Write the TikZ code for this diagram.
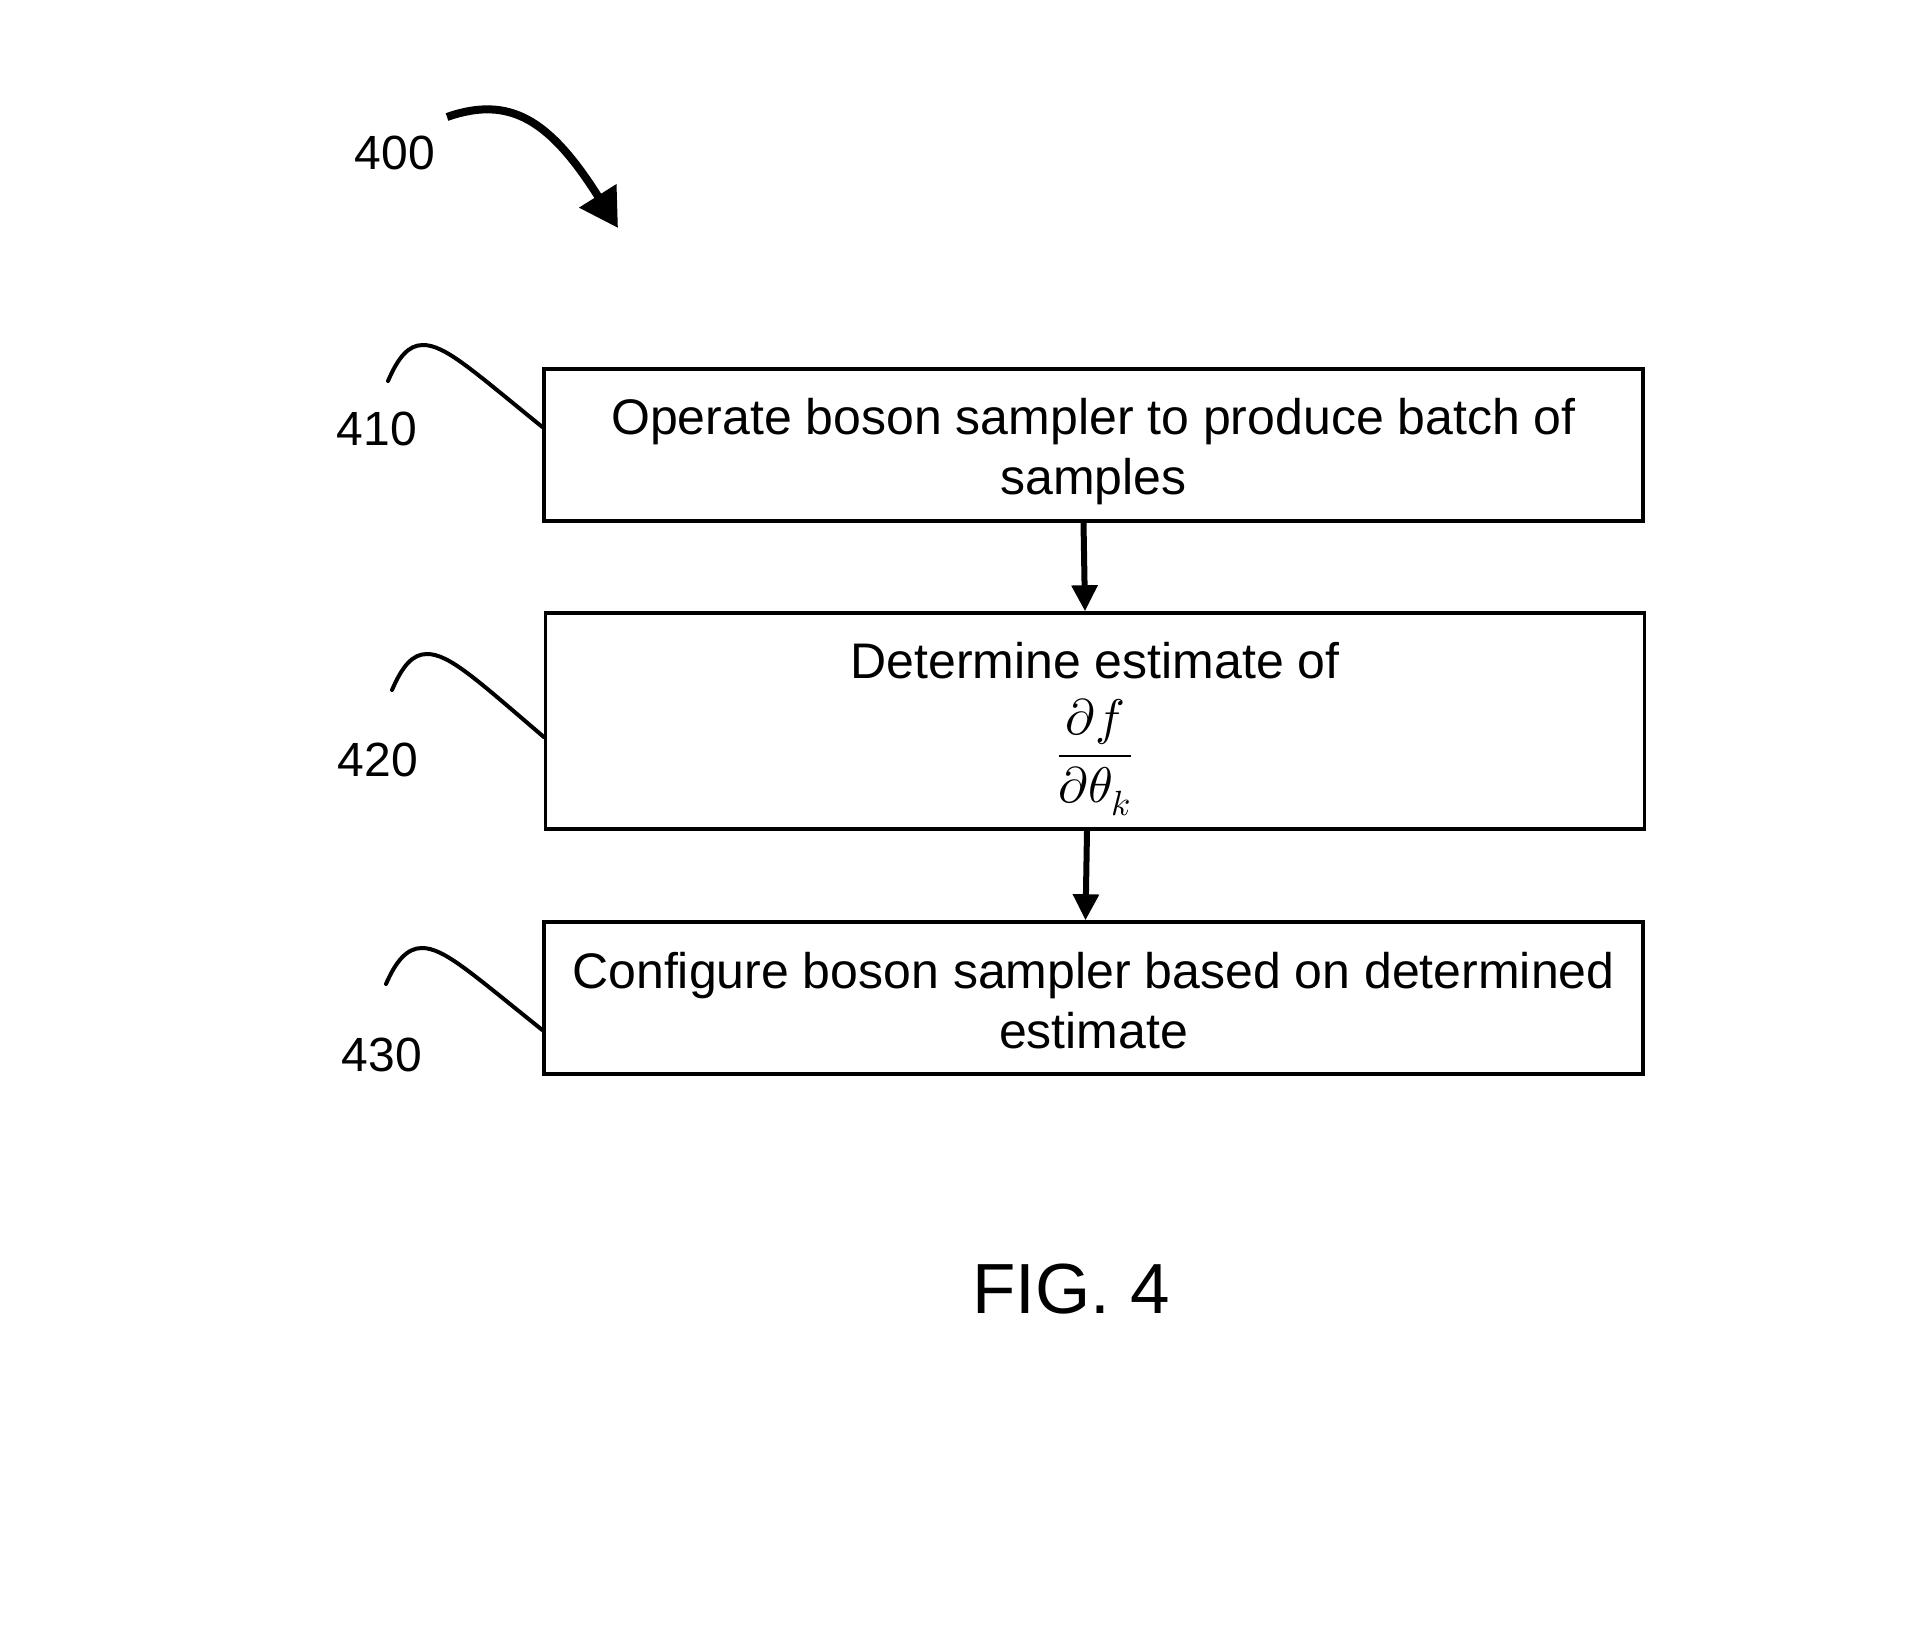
\documentclass[tikz,border=0pt]{standalone}
\usepackage{amsmath}
\usepackage{unicode-math}
\setmainfont{Liberation Sans}
\setmathfont{Latin Modern Math}
\usetikzlibrary{arrows.meta}

\begin{document}
\begin{tikzpicture}[x=0.5pt, y=0.5pt,
  stepbox/.style={draw, line width=1.7pt, minimum width=549.5pt,
                  inner sep=0pt, align=center,
                  font=\fontsize{25}{30}\selectfont},
  reflabel/.style={font=\fontsize{24}{29}\selectfont, inner sep=0pt},
  leader/.style={line width=2pt, line cap=round},
  flowarrow/.style={line width=3pt, -{Triangle[length=13pt,width=12.5pt]}}]

  \useasboundingbox (0,0) rectangle (1931,1650);

  %% Flow steps
  \node[stepbox, minimum height=76pt] (b410) at (1093.5,1205)
    {\rule{0pt}{24.5pt}Operate boson sampler to produce batch of\\samples};
  \node[stepbox, minimum height=108pt] (b420) at (1095,929)
    {\rule{0pt}{26pt}Determine estimate of\\[9pt]$\displaystyle\frac{\partial f}{\partial\theta_k}$};
  \node[stepbox, minimum height=76pt] (b430) at (1093.5,652)
    {\rule{0pt}{20.5pt}Configure boson sampler based on determined\\estimate};

  %% Arrows between steps
  \draw[flowarrow] ([xshift=-5pt]b410.south) -- ([xshift=-5pt]b420.north);
  \draw[flowarrow] ([xshift=-4pt]b420.south) -- ([xshift=-4pt]b430.north);

  %% Reference numerals
  \node[reflabel] (l400) at (395,1497) {400};
  \node[reflabel] (l410) at (377,1221) {410};
  \node[reflabel] (l420) at (378,890) {420};
  \node[reflabel] (l430) at (382,595) {430};

  %% Overall arrow
  \coordinate (s400) at (447,1533);
  \coordinate (t400) at (618,1422);
  \draw[line width=4pt, -{Triangle[length=19pt,width=21pt]}]
    (s400) .. controls (510,1555) and (550,1530) .. (t400);

  %% Lead lines to the steps
  \coordinate (s410) at (388,1269);
  \coordinate (s420) at (392,960);
  \coordinate (s430) at (386,666);
  \draw[leader] (s410) .. controls (398,1292) and (408,1305) .. (423,1305)
    .. controls (445,1305) and (472,1280) .. ([yshift=9pt]b410.west);
  \draw[leader] (s420) .. controls (402,983) and (412,996) .. (427,996)
    .. controls (449,996) and (476,971) .. ([yshift=-8pt]b420.west);
  \draw[leader] (s430) .. controls (396,689) and (407,702) .. (422,702)
    .. controls (444,702) and (471,677) .. ([yshift=-16pt]b430.west);

  %% Caption
  \node[font=\fontsize{35.5}{42}\selectfont, inner sep=0pt] (fig) at (1071,361)
    {FIG. 4};

\end{tikzpicture}
\end{document}
